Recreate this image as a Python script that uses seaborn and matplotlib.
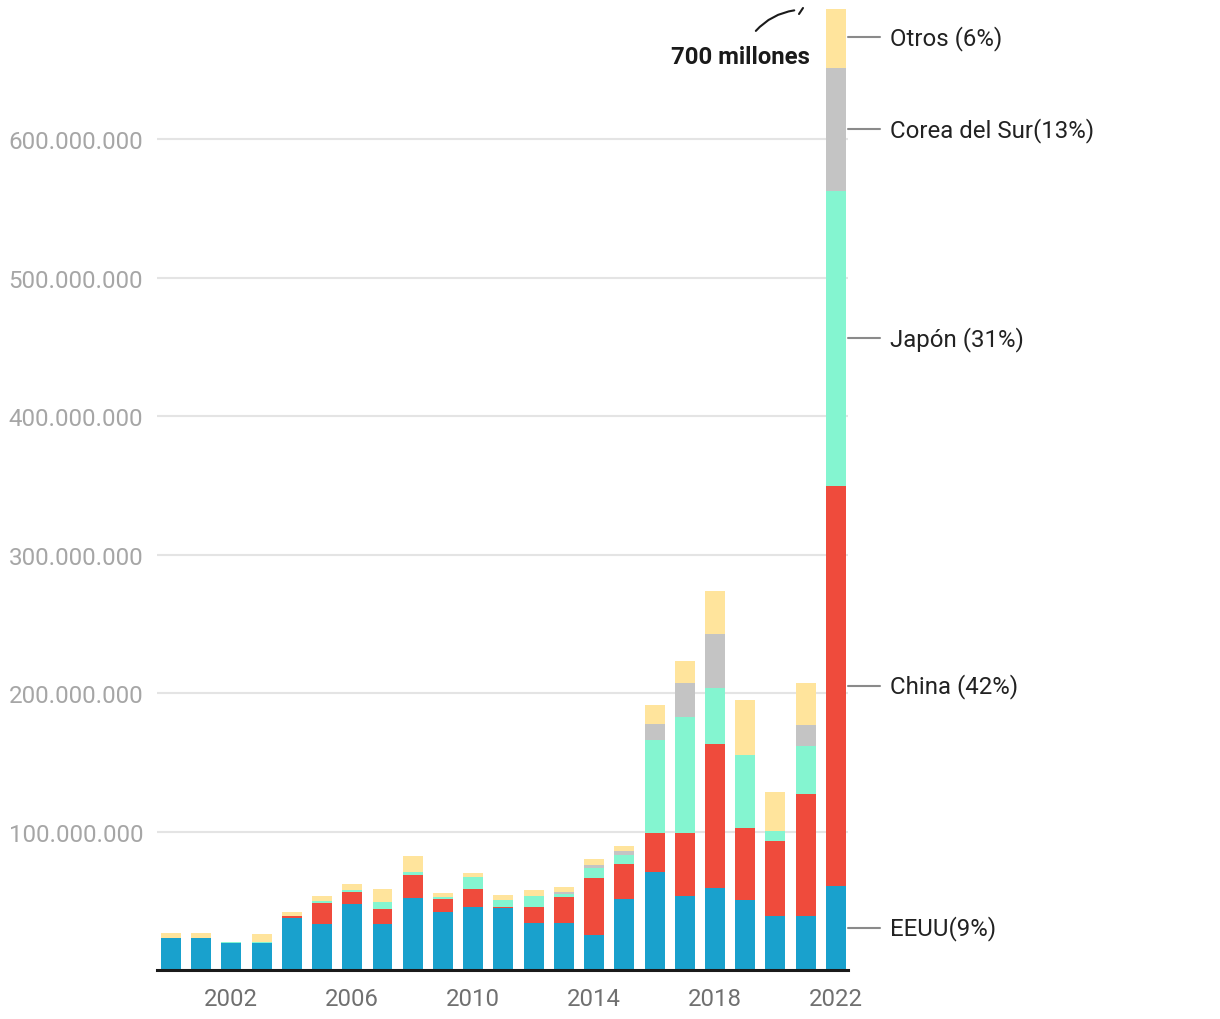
import matplotlib
matplotlib.use("Agg")
import matplotlib.pyplot as plt
import matplotlib.transforms as mtransforms
from matplotlib.ticker import FuncFormatter
import numpy as np
import pandas as pd
import seaborn as sns

years = list(range(2000, 2023))
# values in millions
eeuu  = [23.4, 23.4, 19.7, 19.7, 37.3, 33.5, 47.9, 33.5, 52.3, 42.2, 45.8, 45.0, 34.2, 34.2, 25.5, 51.6, 70.6, 53.7, 59.0, 50.8, 39.3, 39.3, 61.0]
china = [0.0, 0.0, 0.0, 0.0, 1.5, 15.2, 8.7, 10.8, 16.6, 9.4, 13.0, 0.8, 11.6, 18.8, 41.3, 25.3, 28.0, 44.9, 103.9, 51.4, 53.5, 87.5, 288.5]
japon = [0.0, 0.0, 0.8, 0.8, 0.5, 1.4, 1.5, 5.1, 2.2, 1.4, 8.7, 5.1, 7.9, 2.2, 6.5, 6.5, 67.2, 83.8, 40.5, 52.8, 7.9, 34.7, 213.3]
corea = [0.0, 0.0, 0.0, 0.0, 0.0, 0.0, 0.0, 0.0, 0.0, 0.0, 0.0, 0.0, 0.0, 1.4, 2.2, 2.2, 11.6, 24.6, 39.0, 0.0, 0.0, 15.1, 88.9]
otros = [3.6, 3.6, 0.0, 5.7, 2.9, 3.6, 4.3, 9.4, 11.5, 2.9, 2.9, 3.6, 4.4, 3.6, 4.3, 4.3, 13.7, 15.9, 31.1, 39.7, 27.5, 30.4, 44.0]

series_names = ["EEUU", "China", "Japón", "Corea del Sur", "Otros"]
series_labels = ["EEUU(9%)", "China (42%)", "Japón (31%)", "Corea del Sur(13%)", "Otros (6%)"]
colors = ["#19a1cd", "#ef4b3c", "#84f5d0", "#c4c4c4", "#ffe49c"]
tick_years = [2002, 2006, 2010, 2014, 2018, 2022]

sns.set_theme(style="white")
plt.rcParams["font.family"] = ["Roboto", "DejaVu Sans"]

df = pd.DataFrame({"year": [str(y) for y in years], "EEUU": eeuu, "China": china,
                   "Japón": japon, "Corea del Sur": corea, "Otros": otros})
cum = df[series_names].cumsum(axis=1)

fig = plt.figure(figsize=(12.2, 10.2), dpi=100)
ax = fig.add_axes([157/1220, 49/1020, (848-157)/1220, (971-10)/1020])

order = [str(y) for y in years]
for name, col in reversed(list(zip(series_names, colors))):
    sns.barplot(x=df["year"], y=cum[name] * 1e6, color=col, order=order,
                width=0.66, ax=ax, saturation=1, linewidth=0, errorbar=None)

ax.set_xlim(-0.46, len(years) - 1 + 0.4)
ax.set_ylim(0, 694e6)
ax.set_xlabel("")
ax.set_ylabel("")

ax.set_yticks([100e6, 200e6, 300e6, 400e6, 500e6, 600e6])
ax.yaxis.set_major_formatter(FuncFormatter(lambda v, p: f"{int(round(v)):,}".replace(",", ".")))
ax.set_xticks([years.index(y) for y in tick_years])
ax.set_xticklabels([str(y) for y in tick_years])
ax.tick_params(axis="y", length=0, pad=10, labelsize=17.4, labelcolor="#a6a6a6")
ax.tick_params(axis="x", length=0, pad=12, labelsize=17.2, labelcolor="#707070")
ax.grid(axis="y", color="#e4e4e4", linewidth=1.5)
ax.set_axisbelow(True)
for s in ["top", "right", "left"]:
    ax.spines[s].set_visible(False)
ax.spines["bottom"].set_color("#1a1a1a")
ax.spines["bottom"].set_linewidth(2.2)

# right-side labels for the last bar
trans = mtransforms.blended_transform_factory(ax.transAxes, ax.transData)
last = cum.iloc[-1].values
prev = np.concatenate([[0.0], last[:-1]])
mids = (last + prev) / 2 * 1e6
axw = 848 - 157
for lab, m in zip(series_labels, mids):
    ax.plot([1.0, 1.0 + 32/axw], [m, m], color="#8a8a8a", lw=1.5, transform=trans, clip_on=False)
    ax.text(1.0 + 42/axw, m, lab, transform=trans, va="center", ha="left",
            fontsize=17.3, color="#222222")

fig.text(740/1220, 1 - 57/1020, "700 millones", ha="center", va="center",
         fontsize=17.2, fontweight="bold", color="#1a1a1a")
fig.add_artist(matplotlib.patches.FancyArrowPatch(
    (754/1220, 1 - 34/1020), (797/1220, 1 - 11/1020), transform=fig.transFigure,
    connectionstyle="arc3,rad=-0.2", arrowstyle="-", color="#1a1a1a", lw=1.5))
fig.add_artist(matplotlib.lines.Line2D([799/1220, 803/1220], [1 - 15/1020, 1 - 9/1020],
                                       transform=fig.transFigure, color="#1a1a1a", lw=1.5))

fig.savefig("out.png", dpi=100)
